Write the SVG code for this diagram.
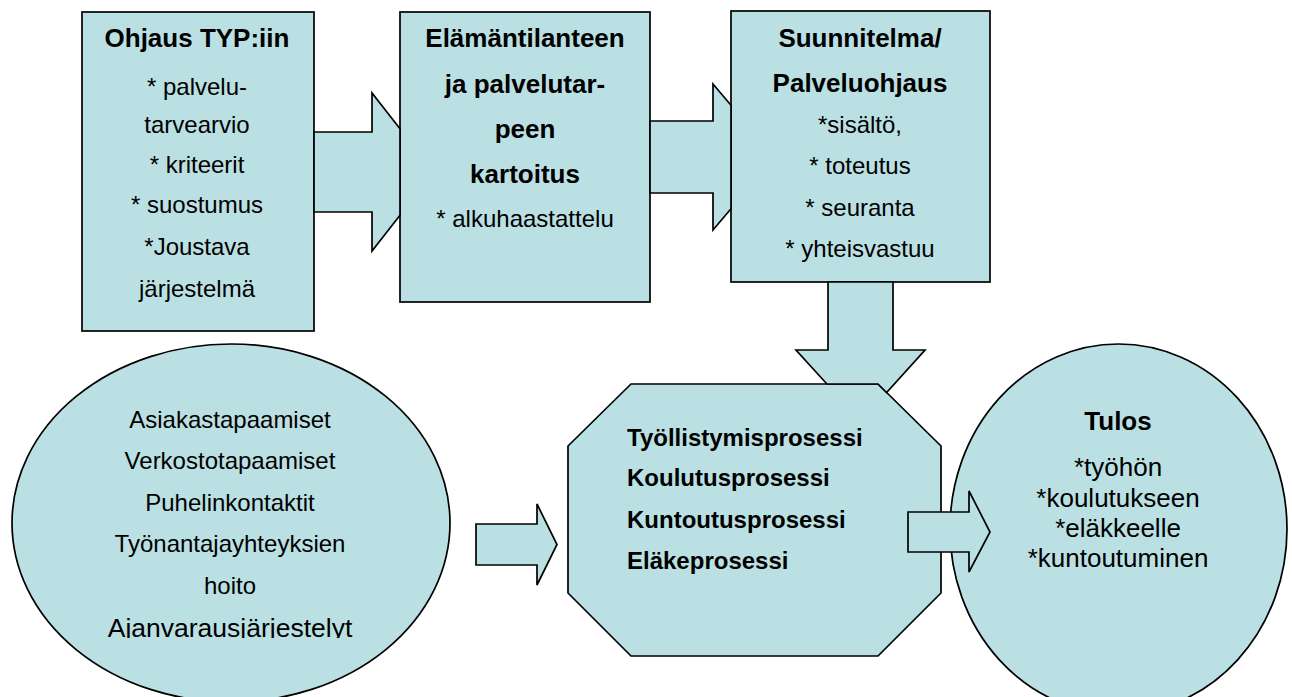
<svg xmlns="http://www.w3.org/2000/svg" width="1292" height="697" viewBox="0 0 1292 697">
<style>
.shape{fill:#BBE0E3;stroke:#000;stroke-width:1.7;stroke-linejoin:miter}
text{font-family:"Liberation Sans",Arial,sans-serif;fill:#000}
.t{font-size:26px;font-weight:bold;text-anchor:middle}
.b{font-size:24px;text-anchor:middle}
.ob{font-size:24px;font-weight:bold}
.tb{font-size:26px;text-anchor:middle}
</style>
<defs>
<clipPath id="ellclip"><rect x="0" y="330" width="460" height="308"/></clipPath>
</defs>
<rect width="1292" height="697" fill="#fff"/>
<g id="node-ohjaus">
<rect class="shape" x="82" y="12" width="232" height="319"/>
<text class="t" x="197" y="47">Ohjaus TYP:iin</text>
<text class="b" x="197" y="95">* palvelu-</text>
<text class="b" x="197" y="133">tarvearvio</text>
<text class="b" x="197" y="172.5">* kriteerit</text>
<text class="b" x="197" y="213">* suostumus</text>
<text class="b" x="197" y="254.5">*Joustava</text>
<text class="b" x="197" y="296.5">järjestelmä</text>
</g>
<g id="node-kartoitus">
<rect class="shape" x="400" y="12" width="250" height="290"/>
<text class="t" x="525" y="47">Elämäntilanteen</text>
<text class="t" x="525" y="93">ja palvelutar-</text>
<text class="t" x="525" y="137.5">peen</text>
<text class="t" x="525" y="182.5">kartoitus</text>
<text class="b" x="525" y="227">* alkuhaastattelu</text>
</g>
<g id="node-suunnitelma">
<rect class="shape" x="731" y="11" width="259" height="271"/>
<text class="t" x="860" y="47">Suunnitelma/</text>
<text class="t" x="860" y="92">Palveluohjaus</text>
<text class="b" x="860" y="133">*sisältö,</text>
<text class="b" x="860" y="174">* toteutus</text>
<text class="b" x="860" y="215.5">* seuranta</text>
<text class="b" x="860" y="257">* yhteisvastuu</text>
</g>
<g id="node-toiminnot">
<ellipse class="shape" cx="231" cy="523" rx="219" ry="179"/>
<text class="b" x="230" y="428">Asiakastapaamiset</text>
<text class="b" x="230" y="469">Verkostotapaamiset</text>
<text class="b" x="230" y="510.5">Puhelinkontaktit</text>
<text class="b" x="230" y="552">Työnantajayhteyksien</text>
<text class="b" x="230" y="593.5">hoito</text>
<text class="b" x="230" y="637" style="font-size:26.5px" clip-path="url(#ellclip)">Ajanvarausjärjestelyt</text>
</g>
<g id="node-prosessit">
<polygon class="shape" points="631,384 878,384 941,446 941,593 878,656 631,656 568,593 568,446"/>
<text class="ob" x="627" y="445.5">Työllistymisprosessi</text>
<text class="ob" x="627" y="486">Koulutusprosessi</text>
<text class="ob" x="627" y="527.5">Kuntoutusprosessi</text>
<text class="ob" x="627" y="569">Eläkeprosessi</text>
</g>
<g id="node-tulos">
<ellipse class="shape" cx="1118.5" cy="529" rx="168.5" ry="185"/>
<text class="t" x="1118" y="430">Tulos</text>
<text class="tb" x="1118" y="476">*työhön</text>
<text class="tb" x="1118" y="507">*koulutukseen</text>
<text class="tb" x="1118" y="537">*eläkkeelle</text>
<text class="tb" x="1118" y="567">*kuntoutuminen</text>
</g>
<g id="connectors">
<polygon class="shape" points="314,132 372,132 372,93 400,128.7 400,215.3 372,251 372,212 314,212"/>
<polygon class="shape" points="650,121 713,121 713,84 731,105.2 731,208.8 713,230 713,193 650,193"/>
<polygon class="shape" points="828,282 893,282 893,350 925,350 886.6,392.6 878,384 826.9,384 796,350 828,350"/>
<polygon class="shape" points="476,524 537,524 537,504 557,544.5 537,585 537,565 476,565"/>
<polygon class="shape" points="908,512 969,512 969,491 990,532 969,572 969,552 908,552"/>
</g>
</svg>
